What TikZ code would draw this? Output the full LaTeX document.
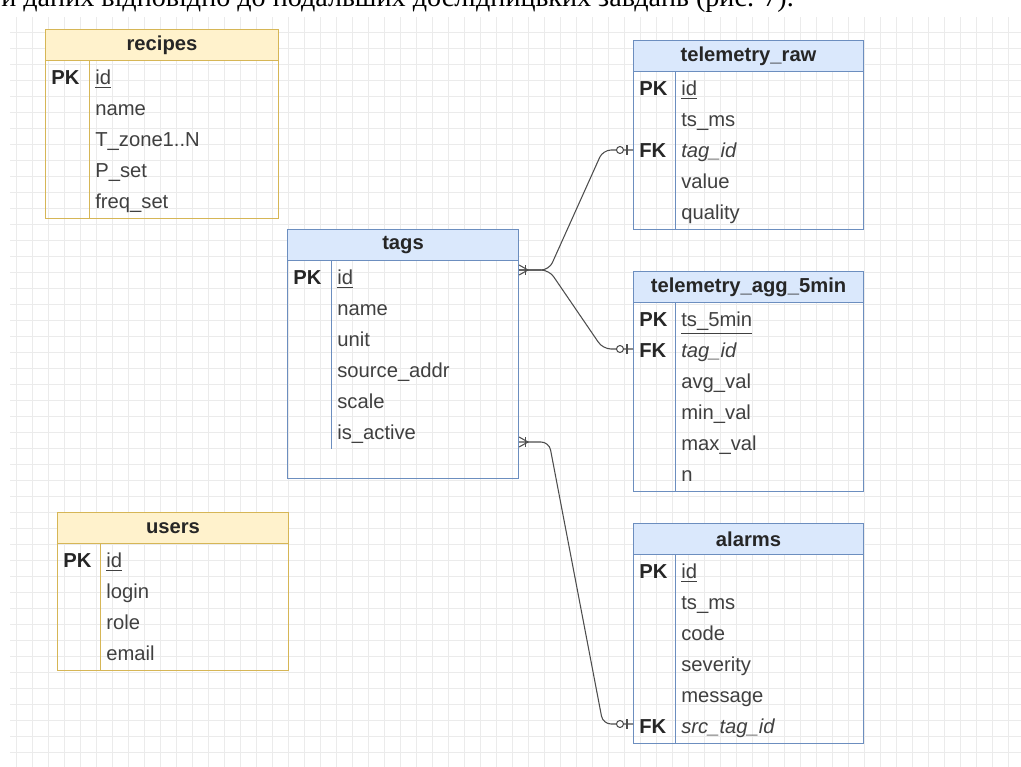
\documentclass[tikz,border=0pt]{standalone}
\usepackage{fontspec}
\setmainfont{Liberation Sans}
\newfontfamily\uaserif{Liberation Serif}
\usepackage{tikz}
\usetikzlibrary{calc, positioning}
\definecolor{hdrblue}{HTML}{DAE8FC}
\definecolor{lineblue}{HTML}{6C8EBF}
\definecolor{hdryellow}{HTML}{FFF2CC}
\definecolor{lineyellow}{HTML}{D6B656}
\definecolor{gridgray}{HTML}{EBEBEB}
\definecolor{relgray}{HTML}{4D4D4D}
\newcommand{\tabfont}{\fontsize{11.5}{13}\selectfont}

% #1 name, #2 colour, #3 left, #4 top, #5 width, #6 body height, #7 key column, #8 title, #9 rows
\newcommand{\ertable}[9]{%
  \node[tbody, draw=line#2, minimum width={#5*0.2mm}, minimum height={#6*0.2mm}] (#1-body) at (#3,#4+31) {};
  \node[thead, fill=hdr#2, draw=line#2, minimum width={#5*0.2mm}, minimum height={31*0.2mm}] (#1) at (#3,#4) {#8};
  \foreach \k/\f [count=\i] in {#9} {
    \node[keycell] (#1-k\i) at ({#3+6},{#4+51+31*(\i-1)}) {\k};
    \node[field] (#1-f\i) at ({#3+#7+6},{#4+51+31*(\i-1)}) {\f};
    \draw[draw=line#2, line width=0.5pt] ({#3+#7},{#4+31+31*(\i-1)}) -- ++(0,34);
  }
}

\begin{document}
\begin{tikzpicture}[x=0.2mm, y=-0.2mm,
  thead/.style={draw, anchor=north west, inner sep=0, line width=0.6pt, font=\tabfont\bfseries, text=black!85},
  tbody/.style={draw, anchor=north west, inner sep=0, line width=0.6pt},
  keycell/.style={anchor=west, inner sep=0, text height=0.75em, text depth=0.25em, font=\tabfont\bfseries, text=black!85},
  field/.style={anchor=west, inner sep=0, text height=0.75em, text depth=0.25em, font=\tabfont, text=black!75},
  rel/.style={draw=relgray, line width=0.6pt, rounded corners=1.6mm},
  relmark/.style={draw=relgray, line width=0.6pt}
]
  \useasboundingbox (0,0) rectangle (1021,767);
  \fill[white] (0,0) rectangle (1021,767);
  \draw[gridgray, line width=0.4pt, step=3.2mm] (10,17) grid (1021,767);

  % cut-off line of the page above the figure
  \begin{scope}
    \clip (0,0) rectangle (1021,767);
    \node[anchor=base west, inner sep=0, font=\uaserif\fontsize{16}{18}\selectfont] (caption) at (1,6)
      {и даних відповідно до подальших дослідницьких завдань (рис. 7).};
  \end{scope}

  % tables
  \ertable{recipes}{yellow}{45}{29}{233}{158}{44}{recipes}
    {PK/\underline{id}, /name, /T\_zone1..N, /P\_set, /freq\_set}
  \ertable{users}{yellow}{57}{512}{231}{127}{43}{users}
    {PK/\underline{id}, /login, /role, /email}
  \ertable{tags}{blue}{287}{229}{231}{218}{44}{tags}
    {PK/\underline{id}, /name, /unit, /source\_addr, /scale, /is\_active}
  \ertable{raw}{blue}{633}{40}{230}{158}{42}{telemetry\_raw}
    {PK/\underline{id}, /ts\_ms, FK/\textit{tag\_id}, /value, /quality}
  \ertable{agg}{blue}{633}{271}{230}{189}{42}{telemetry\_agg\_5min}
    {PK/\underline{ts\_5min}, FK/\textit{tag\_id}, /avg\_val, /min\_val, /max\_val, /n}
  \ertable{alarms}{blue}{633}{523}{230}{189}{42}{alarms}
    {PK/\underline{id}, /ts\_ms, /code, /severity, /message, FK/\textit{src\_tag\_id}}

  % relations
  \coordinate (tags-out1) at ($(tags-body.north east)+(0,10)$);
  \coordinate (tags-out2) at ($(tags-body.north east)+(0,182)$);
  \coordinate (raw-in) at ($(raw-body.west |- raw-f3)+(0,-3)$);
  \coordinate (agg-in) at ($(agg-body.west |- agg-f2)+(0,-4)$);
  \coordinate (alarms-in) at ($(alarms-body.west |- alarms-f6)+(0,-5)$);

  \foreach \s/\t in {tags-out1/raw-in, tags-out1/agg-in, tags-out2/alarms-in} {
    \draw[rel] (\s) -- ++(30,0) -- ($(\t)+(-30,0)$) -- (\t);
    \draw[relmark] ($(\t)+(-6,-5)$) -- ($(\t)+(-6,5)$);
    \draw[relmark, fill=white] ($(\t)+(-13,0)$) circle[radius=3.5];
  }
  \foreach \s in {tags-out1, tags-out2} {
    \draw[relmark] ($(\s)+(0,-5)$) -- ($(\s)+(9,0)$) -- ($(\s)+(0,5)$);
    \draw[relmark] ($(\s)+(6,-5)$) -- ($(\s)+(6,5)$);
  }
\end{tikzpicture}
\end{document}
